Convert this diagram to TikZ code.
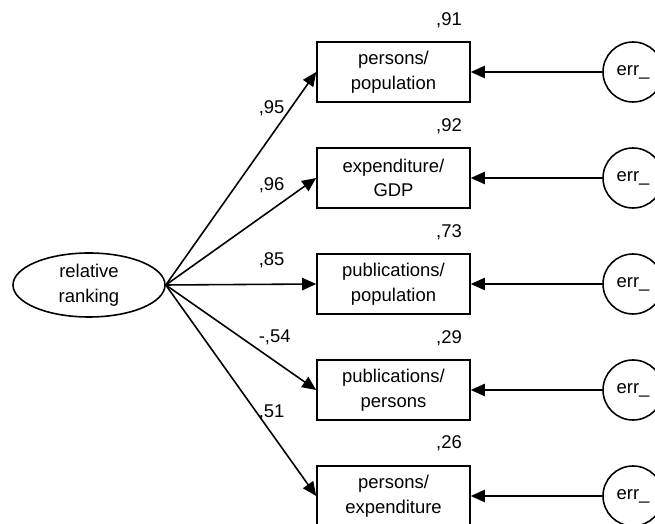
\documentclass[tikz,border=0pt]{standalone}
\usepackage{fontspec}
\setmainfont{Liberation Sans}
\usepackage{tikz}
\usetikzlibrary{shapes.geometric}
\usetikzlibrary{arrows.meta}
\tikzset{
	latent/.style={draw, ellipse, line width=0.9pt, minimum width=3.04cm, minimum height=1.28cm, inner sep=0pt, align=center},
	observed/.style={draw, rectangle, line width=0.9pt, minimum width=3.06cm, minimum height=1.2cm, inner sep=0pt, align=center},
	errnode/.style={draw, circle, line width=0.9pt, minimum size=1.2cm, inner sep=0pt},
	path/.style={line width=0.9pt, -{Triangle[length=8pt,width=7pt]}},
	coef/.style={inner sep=0pt}
}

\begin{document}
\begin{tikzpicture}[font=\fontsize{10.5pt}{14pt}\selectfont]
			\useasboundingbox (0,0) rectangle (13.1,10.48);
			\node[latent] (rank) at (1.78,4.78) {relative\\ranking};
			\node[observed] (pp) at (7.87,9.04) {persons/\\population};
			\node[observed] (eg) at (7.87,6.92) {expenditure/\\GDP};
			\node[observed] (pubpop) at (7.87,4.80) {publications/\\population};
			\node[observed] (pubpers) at (7.87,2.68) {publications/\\persons};
			\node[observed] (pe) at (7.87,0.56) {persons/\\expenditure};
			\node[errnode] (e1) at (12.66,9.04) {err\_};
			\node[errnode] (e2) at (12.66,6.92) {err\_};
			\node[errnode] (e3) at (12.66,4.80) {err\_};
			\node[errnode] (e4) at (12.66,2.68) {err\_};
			\node[errnode] (e5) at (12.66,0.56) {err\_};
			% squared multiple correlations
			\node[coef] (r1) at (8.98,10.08) {,91};
			\node[coef] (r2) at (8.98,7.96) {,92};
			\node[coef] (r3) at (8.98,5.84) {,73};
			\node[coef] (r4) at (8.98,3.72) {,29};
			\node[coef] (r5) at (8.98,1.62) {,26};
			% loadings
			\draw[path] (rank.east) -- (pp.west) node[coef, anchor=west] at (5.16,8.32) {,95};
			\draw[path] (rank.east) -- (eg.west) node[coef, anchor=west] at (5.16,6.78) {,96};
			\draw[path] (rank.east) -- (pubpop.west) node[coef, anchor=west] at (5.16,5.28) {,85};
			\draw[path] (rank.east) -- (pubpers.west) node[coef, anchor=west] at (5.16,3.74) {-,54};
			\draw[path] (rank.east) -- (pe.west) node[coef, anchor=west] at (5.16,2.24) {,51};
			\draw[path] (e1) -- (pp);
			\draw[path] (e2) -- (eg);
			\draw[path] (e3) -- (pubpop);
			\draw[path] (e4) -- (pubpers);
			\draw[path] (e5) -- (pe);
		\end{tikzpicture}
\end{document}
